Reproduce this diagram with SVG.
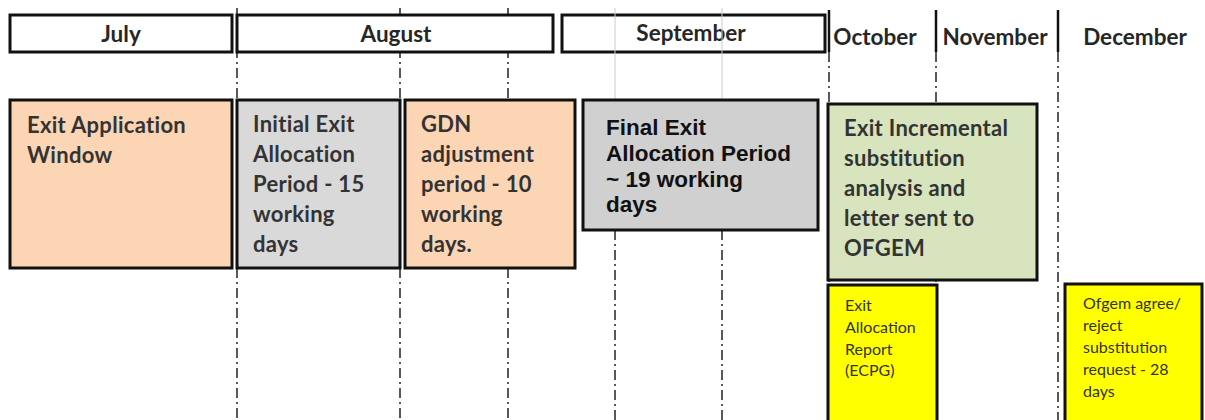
<svg xmlns="http://www.w3.org/2000/svg" width="1205" height="420" viewBox="0 0 1205 420">
<style>
.hdr{fill:#fff;stroke:#111;stroke-width:3}
.box{stroke:#111;stroke-width:3}
.peach{fill:#fcd5b5}
.grey{fill:#d9d9d9}
.grey2{fill:#d0d0d0}
.green{fill:#d7e4bd}
.yellow{fill:#ffff00}
.dash{stroke:#222;stroke-width:1.5;stroke-dasharray:10 4 2 4;fill:none}
.faint{stroke:#ccc;stroke-width:1;fill:none}
.solid{stroke:#111;stroke-width:2.5}
.ht{font-family:Lato,"Liberation Sans",sans-serif;font-weight:bold;font-size:22.5px;fill:#262626;text-anchor:middle}
.bt{font-family:Lato,"Liberation Sans",sans-serif;font-weight:bold;font-size:22px;letter-spacing:0.3px;fill:#333}
.at{font-family:"Liberation Sans",Arial,sans-serif;font-weight:bold;font-size:22.5px;fill:#111}
.st{font-family:Lato,"Liberation Sans",sans-serif;font-size:16px;fill:#333}
</style>
<rect width="1205" height="420" fill="#fff"/>
<g id="connectors">
<line class="dash" x1="237" y1="8" x2="237" y2="420"/>
<line class="dash" x1="400" y1="8" x2="400" y2="420"/>
<line class="dash" x1="508" y1="8" x2="508" y2="420"/>
<line class="dash" x1="615" y1="230" x2="615" y2="420"/>
<line class="dash" x1="722" y1="230" x2="722" y2="420"/>
<line class="dash" x1="829" y1="52" x2="829" y2="420"/>
<line class="dash" x1="936" y1="52" x2="936" y2="420"/>
<line class="dash" x1="1058" y1="52" x2="1058" y2="420"/>
<line class="solid" x1="829" y1="10" x2="829" y2="52"/>
<line class="solid" x1="936" y1="10" x2="936" y2="52"/>
<line class="solid" x1="1058" y1="10" x2="1058" y2="52"/>
</g>
<g id="july"><rect class="hdr" x="10" y="15" width="222" height="37"/><text class="ht" x="121" y="42">July</text></g>
<g id="august"><rect class="hdr" x="237" y="15" width="316" height="37"/><text class="ht" x="396" y="42">August</text></g>
<g id="september"><rect class="hdr" x="562" y="15" width="263" height="37"/><text class="ht" x="691" y="41">September</text></g>
<g id="faintlines">
<line class="faint" x1="615" y1="8" x2="615" y2="100"/>
<line class="faint" x1="722" y1="8" x2="722" y2="100"/>
</g>
<g id="october"><text class="ht" x="875" y="45">October</text></g>
<g id="november"><text class="ht" x="995" y="45">November</text></g>
<g id="december"><text class="ht" x="1135" y="45">December</text></g>
<g id="exit-application"><rect class="box peach" x="10" y="100" width="222" height="168"/>
<text class="bt"><tspan x="27" y="133">Exit Application</tspan><tspan x="27" y="163">Window</tspan></text></g>
<g id="initial-exit"><rect class="box grey" x="237" y="100" width="163" height="168"/>
<text class="bt"><tspan x="253" y="132">Initial Exit</tspan><tspan x="253" y="162">Allocation</tspan><tspan x="253" y="192">Period - 15</tspan><tspan x="253" y="222">working</tspan><tspan x="253" y="252">days</tspan></text></g>
<g id="gdn"><rect class="box peach" x="405" y="100" width="170" height="168"/>
<text class="bt"><tspan x="421" y="132">GDN</tspan><tspan x="421" y="162">adjustment</tspan><tspan x="421" y="192">period - 10</tspan><tspan x="421" y="222">working</tspan><tspan x="421" y="252">days.</tspan></text></g>
<g id="final-exit"><rect class="box grey2" x="583" y="100" width="235" height="130"/>
<text class="at"><tspan x="606" y="135">Final Exit</tspan><tspan x="606" y="161">Allocation Period</tspan><tspan x="606" y="187">~ 19 working</tspan><tspan x="606" y="212">days</tspan></text></g>
<g id="exit-incremental"><rect class="box green" x="828" y="104" width="209" height="176"/>
<text class="bt"><tspan x="844" y="136">Exit Incremental</tspan><tspan x="844" y="166">substitution</tspan><tspan x="844" y="196">analysis and</tspan><tspan x="844" y="226">letter sent to</tspan><tspan x="844" y="256">OFGEM</tspan></text></g>
<g id="exit-allocation-report"><rect class="box yellow" x="828" y="285" width="109" height="140"/>
<text class="st"><tspan x="845" y="311">Exit</tspan><tspan x="845" y="333">Allocation</tspan><tspan x="845" y="355">Report</tspan><tspan x="845" y="376">(ECPG)</tspan></text></g>
<g id="ofgem"><rect class="box yellow" x="1065" y="284" width="137" height="140"/>
<text class="st"><tspan x="1083" y="309">Ofgem agree/</tspan><tspan x="1083" y="331">reject</tspan><tspan x="1083" y="353">substitution</tspan><tspan x="1083" y="375">request - 28</tspan><tspan x="1083" y="397">days</tspan></text></g>
</svg>
